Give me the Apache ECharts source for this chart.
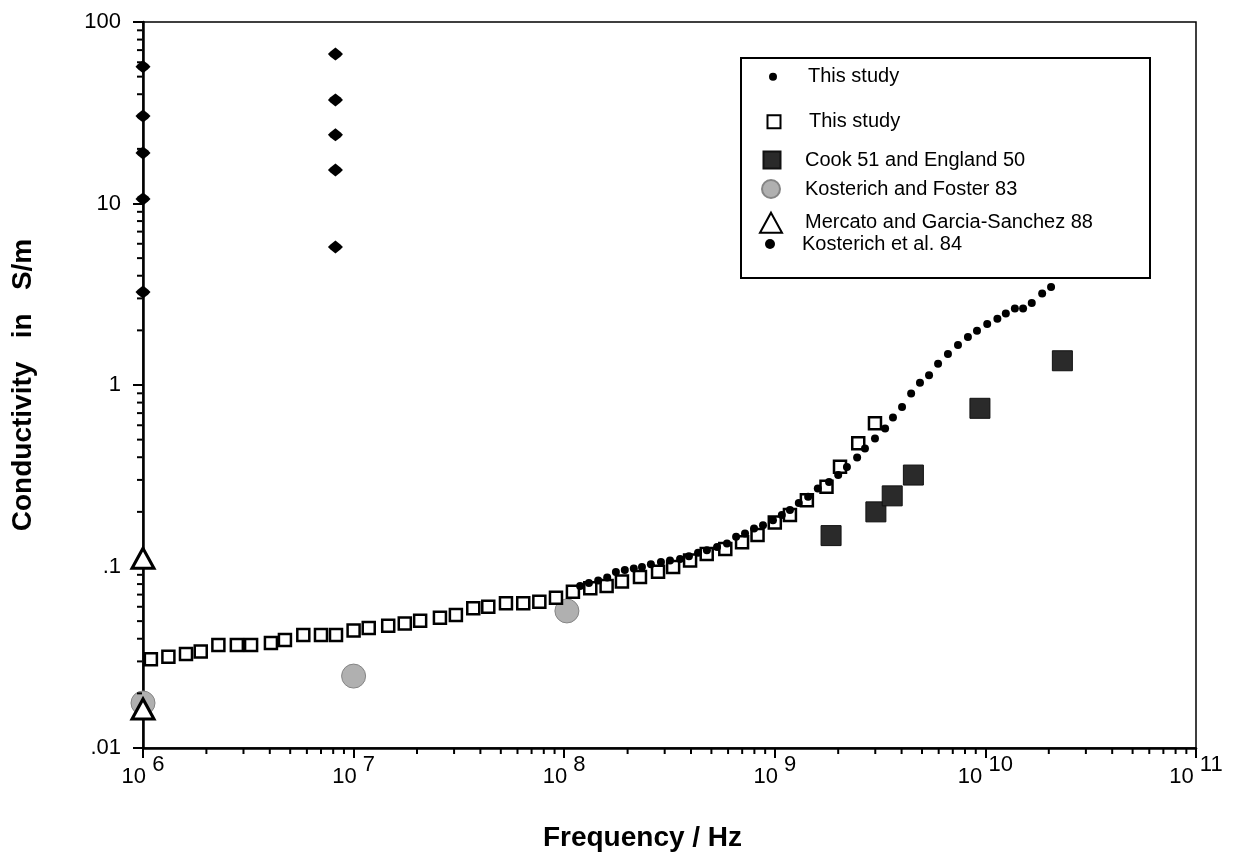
<!DOCTYPE html>
<html>
<head>
<meta charset="utf-8">
<script src="https://cdn.jsdelivr.net/npm/echarts@6/dist/echarts.min.js"></script>
<style>
  html, body { margin: 0; padding: 0; background: #fff; }
  #chart { width: 1258px; height: 865px; }
</style>
</head>
<body>
<div id="chart"></div>
<script>
// ---------------- DATA ----------------
// This study (filled dots)
const dotFreq = [1.19e8,1.31e8,1.45e8,1.60e8,1.76e8,1.94e8,2.14e8,2.34e8,2.58e8,2.88e8,
  3.18e8,3.55e8,3.91e8,4.32e8,4.76e8,5.32e8,5.93e8,6.55e8,7.22e8,7.97e8,
  8.79e8,9.80e8,1.08e9,1.18e9,1.30e9,1.44e9,1.60e9,1.81e9,2.00e9,2.20e9,
  2.46e9,2.68e9,2.99e9,3.34e9,3.64e9,4.02e9,4.44e9,4.89e9,5.40e9,5.96e9,
  6.64e9,7.41e9,8.26e9,9.12e9,1.02e10,1.14e10,1.25e10,1.38e10,1.51e10,1.66e10,
  1.86e10,2.05e10];
const dotCond = [0.0781,0.0811,0.0838,0.0869,0.0933,0.0957,0.0975,0.0993,0.103,0.106,
  0.108,0.110,0.114,0.119,0.123,0.128,0.134,0.146,0.152,0.162,
  0.169,0.180,0.192,0.205,0.224,0.242,0.269,0.292,0.319,0.353,
  0.399,0.447,0.507,0.575,0.662,0.757,0.897,1.03,1.13,1.31,
  1.48,1.66,1.84,1.99,2.17,2.32,2.48,2.64,2.64,2.83,
  3.19,3.47];

// This study (open squares)
const sqFreq = [1.09e6,1.32e6,1.60e6,1.88e6,2.28e6,2.79e6,3.26e6,4.05e6,4.72e6,5.77e6,
  7.0e6,8.25e6,1.0e7,1.18e7,1.46e7,1.75e7,2.07e7,2.57e7,3.06e7,3.70e7,
  4.36e7,5.29e7,6.39e7,7.62e7,9.14e7,1.10e8,1.33e8,1.59e8,1.88e8,2.29e8,
  2.79e8,3.29e8,3.96e8,4.75e8,5.82e8,6.99e8,8.28e8,1.0e9,1.18e9,1.42e9,
  1.76e9,2.04e9,2.49e9,2.99e9];
const sqCond = [0.0308,0.0318,0.0330,0.0340,0.0369,0.0369,0.0369,0.0379,0.0394,0.0419,
  0.0419,0.0419,0.0444,0.0458,0.0472,0.0486,0.0503,0.0522,0.0541,0.0589,
  0.0601,0.0627,0.0627,0.0640,0.0673,0.0726,0.0759,0.0781,0.0826,0.0875,
  0.0936,0.0994,0.108,0.117,0.125,0.136,0.149,0.175,0.192,0.232,
  0.275,0.355,0.477,0.615];

// Cook 51 and England 50
const cookFreq = [1.85e9, 3.02e9, 3.61e9, 4.55e9, 9.42e9, 2.32e10];
const cookCond = [0.148, 0.200, 0.245, 0.319, 0.744, 1.36];

// Kosterich and Foster 83
const kfFreq = [1.0e6, 1.0e7, 1.03e8];
const kfCond = [0.0177, 0.0249, 0.0569];

// Mercato and Garcia-Sanchez 88
const mgFreq = [1.0e6, 1.0e6];
const mgCond = [0.111, 0.0164];

// Kosterich et al. 84
const k84Freq = [1e6,1e6,1e6,1e6,1e6, 8.2e6,8.2e6,8.2e6,8.2e6,8.2e6];
const k84Cond = [56.7,30.3,19.0,10.6,3.25, 66.6,37.2,23.9,15.3,5.76];

// Tick labels
const xTickExponents = ['6','7','8','9','10','11'];
const yTickLabels = ['.01','.1','1','10','100'];
const xDecades = [1e6,1e7,1e8,1e9,1e10];
const yDecades = [0.01,0.1,1,10];
const minorMultipliers = [2,3,4,5,6,7,8,9];

// Series names / legend labels
const names = {
  dots: 'This study',
  squares: 'This study',
  cook: 'Cook 51 and England 50',
  kf: 'Kosterich and Foster 83',
  mg: 'Mercato and Garcia-Sanchez 88',
  k84: 'Kosterich et al. 84'
};

// ---------------- BUILD ----------------
const zip = (a, b) => a.map((v, i) => [v, b[i]]);
const xMinor = [];
xDecades.forEach(d => minorMultipliers.forEach(m => xMinor.push([d * m, 0.01])));
const yMinor = [];
yDecades.forEach(d => minorMultipliers.forEach(m => yMinor.push([1e6, d * m])));

const FONT = '"Liberation Sans", Arial, Helvetica, sans-serif';

const chart = echarts.init(document.getElementById('chart'), null, { renderer: 'canvas' });

function legendItem(id, name, left, top, iw, ih, padLeft, icon) {
  return {
    id: id,
    data: [{ name: name, icon: icon }],
    left: left, top: top,
    padding: 0,
    itemWidth: iw, itemHeight: ih,
    selectedMode: false,
    formatter: function () { return names[id]; },
    textStyle: { fontFamily: FONT, fontSize: 20, color: '#000', lineHeight: 22, padding: [0, 0, 0, padLeft] },
    z: 6
  };
}

const option = {
  animation: false,
  backgroundColor: '#fff',
  textStyle: { fontFamily: FONT },
  grid: { left: 143, right: 62, top: 22, bottom: 117, show: true, borderColor: '#000', borderWidth: 1.5, backgroundColor: 'transparent' },
  xAxis: {
    type: 'log', logBase: 10, min: 1e6, max: 1e11,
    axisLine: { onZero: false, lineStyle: { color: '#000', width: 2.5 } },
    axisTick: { show: true, inside: false, length: 10, lineStyle: { color: '#000', width: 2 } },
    minorTick: { show: false },
    splitLine: { show: false },
    axisLabel: {
      margin: 12, color: '#000', fontFamily: FONT, fontSize: 22,
      formatter: function (v) {
        const e = Math.round(Math.log10(v));
        return '{b|10} {s|' + xTickExponents[e - 6] + '}';
      },
      rich: {
        b: { fontFamily: FONT, fontSize: 22, lineHeight: 22, padding: [12, 0, 0, 0], color: '#000' },
        s: { fontFamily: FONT, fontSize: 22, lineHeight: 22, padding: [0, 0, 12, 0], color: '#000' }
      }
    },
    name: 'Frequency / Hz', nameLocation: 'middle', nameGap: 76,
    nameTextStyle: { fontFamily: FONT, fontSize: 28, fontWeight: 'bold', color: '#000', padding: [0, 54, 0, 0] }
  },
  yAxis: {
    type: 'log', logBase: 10, min: 0.01, max: 100,
    axisLine: { onZero: false, lineStyle: { color: '#000', width: 2.5 } },
    axisTick: { show: true, inside: false, length: 10, lineStyle: { color: '#000', width: 2 } },
    splitLine: { show: false },
    axisLabel: {
      margin: 22, color: '#000', fontFamily: FONT, fontSize: 22,
      formatter: function (v) {
        const e = Math.round(Math.log10(v));
        return yTickLabels[e + 2];
      }
    },
    name: 'Conductivity   in   S/m', nameLocation: 'middle', nameGap: 106, nameRotate: 90,
    nameTextStyle: { fontFamily: FONT, fontSize: 28, fontWeight: 'bold', color: '#000' }
  },
  legend: [
    legendItem('dots', 'dots', 769, 65.7, 8, 8, 26, 'circle'),
    legendItem('squares', 'squares', 766.5, 110.7, 13, 13, 23.5, 'rect'),
    legendItem('cook', 'cook', 762.5, 149, 17, 17, 19.5, 'rect'),
    legendItem('kf', 'kf', 761, 178, 18, 18, 20, 'circle'),
    legendItem('mg', 'mg', 759, 211.7, 22, 20, 18, 'triangle'),
    legendItem('k84', 'k84', 765, 233, 14, 10, 20, 'circle')
  ],
  graphic: [{
    type: 'rect', z: 5,
    shape: { x: 741, y: 58, width: 409, height: 220 },
    style: { fill: '#fff', stroke: '#000', lineWidth: 2 }
  }],
  series: [
    {
      name: 'kf', type: 'scatter', data: zip(kfFreq, kfCond),
      symbol: 'circle', symbolSize: 24, clip: false,
      itemStyle: { color: '#b0b0b0', borderColor: '#858585', borderWidth: 1, opacity: 1 }
    },
    {
      name: 'cook', type: 'scatter', data: zip(cookFreq, cookCond),
      symbol: 'rect', symbolSize: 20, clip: false,
      itemStyle: { color: '#2a2a2a', borderColor: '#111', borderWidth: 1, opacity: 1 }
    },
    {
      name: 'mg', type: 'scatter', data: zip(mgFreq, mgCond),
      symbol: 'triangle', symbolSize: [22, 20], clip: false,
      itemStyle: { color: '#fff', borderColor: '#000', borderWidth: 3, opacity: 1 }
    },
    {
      name: 'k84', type: 'scatter', data: zip(k84Freq, k84Cond),
      symbol: 'path://M6,0 L10,3 L12,5 L10,7 L6,10 L2,7 L0,5 L2,3 Z', symbolSize: [15, 13], symbolKeepAspect: false, clip: false,
      itemStyle: { color: '#000', opacity: 1 }
    },
    {
      name: 'squares', type: 'scatter', data: zip(sqFreq, sqCond),
      symbol: 'rect', symbolSize: 12, clip: false,
      itemStyle: { color: '#fff', borderColor: '#000', borderWidth: 2.5, opacity: 1 }
    },
    {
      name: 'dots', type: 'scatter', data: zip(dotFreq, dotCond),
      symbol: 'circle', symbolSize: 8, clip: false,
      itemStyle: { color: '#000', opacity: 1 }
    },
    {
      name: 'xminor', type: 'scatter', data: xMinor, silent: true, clip: false,
      symbol: 'rect', symbolSize: [2, 5], symbolOffset: [0, 3.5],
      itemStyle: { color: '#000', opacity: 1 }, z: 4
    },
    {
      name: 'yminor', type: 'scatter', data: yMinor, silent: true, clip: false,
      symbol: 'rect', symbolSize: [5, 2], symbolOffset: [-3.5, 0],
      itemStyle: { color: '#000', opacity: 1 }, z: 4
    }
  ]
};
chart.setOption(option);
</script>
</body>
</html>
